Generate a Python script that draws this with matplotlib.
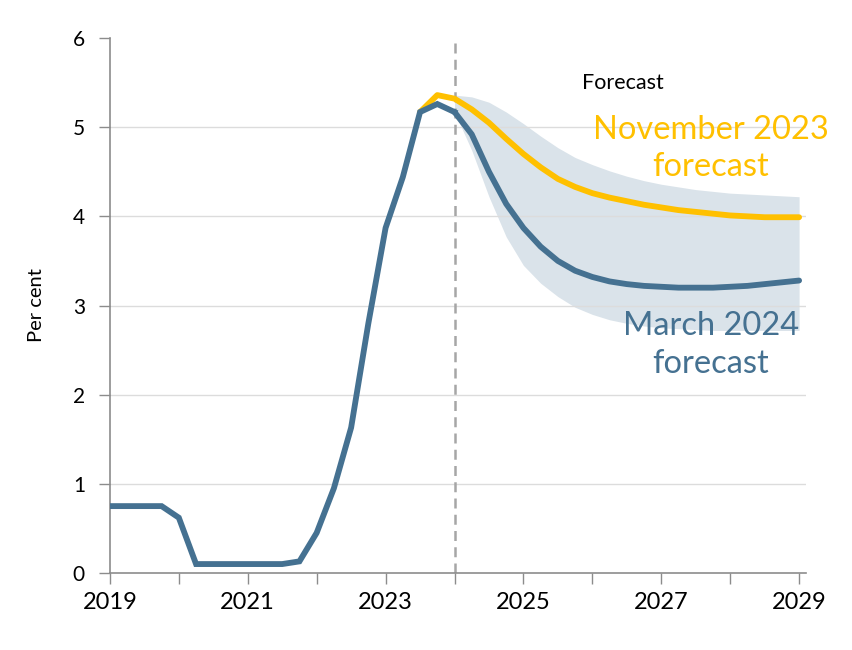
import numpy as np
import matplotlib
matplotlib.use("Agg")
import matplotlib.pyplot as plt

plt.rcParams['font.family'] = ['Lato', 'DejaVu Sans']

# quarterly data, first point = 2019 Q1 (plotted at 2019.0)
hist_start = 2019.0
hist = [0.75, 0.75, 0.75, 0.75, 0.62, 0.10, 0.10, 0.10, 0.10, 0.10, 0.10,
        0.13, 0.45, 0.95, 1.63, 2.80, 3.87, 4.44, 5.17, 5.26, 5.17]

# March 2024 forecast, from 2024.0
fc_start = 2024.0
mar24 = [5.17, 4.92, 4.50, 4.14, 3.87, 3.66, 3.50, 3.39, 3.32, 3.27, 3.24,
         3.22, 3.21, 3.20, 3.20, 3.20, 3.21, 3.22, 3.24, 3.26, 3.28]
band_hi = [5.36, 5.34, 5.28, 5.17, 5.04, 4.90, 4.77, 4.66, 4.58, 4.51, 4.45,
           4.40, 4.36, 4.33, 4.30, 4.28, 4.26, 4.25, 4.24, 4.23, 4.22]
band_lo = [5.17, 4.74, 4.22, 3.77, 3.45, 3.25, 3.10, 2.98, 2.90, 2.84, 2.80,
           2.77, 2.75, 2.74, 2.73, 2.72, 2.72, 2.72, 2.72, 2.72, 2.72]

# November 2023 forecast, from 2023.5
nov_start = 2023.5
nov23 = [5.17, 5.36, 5.32, 5.20, 5.05, 4.87, 4.70, 4.55, 4.42, 4.33, 4.26,
         4.21, 4.17, 4.13, 4.10, 4.07, 4.05, 4.03, 4.01, 4.00, 3.99, 3.99, 3.99]

years = list(range(2019, 2030))
year_labels = [str(y) if y % 2 == 1 else '' for y in years]

blue = '#457191'
yellow = '#FFC000'
band = '#DAE3EA'
grey = '#8C8C8C'

hx = hist_start + np.arange(len(hist)) / 4
fx = fc_start + np.arange(len(mar24)) / 4
nx = nov_start + np.arange(len(nov23)) / 4

fig = plt.figure(figsize=(8.52, 6.5), dpi=100)
ax = fig.add_axes([0.129, 0.1185, 0.817, 0.823])

ax.fill_between(fx, band_lo, band_hi, color=band, lw=0, zorder=0.5)
for v in range(1, 6):
    ax.axhline(v, color='#DCDCDC', lw=1, zorder=1)
ax.axvline(2024, color='#A6A6A6', lw=1.8, ls=(0, (4, 2.5)), zorder=1.5)

ax.plot(nx, nov23, color=yellow, lw=4.2, solid_capstyle='round', zorder=3)
ax.plot(hx, hist, color=blue, lw=4.2, solid_joinstyle='miter', zorder=4)
ax.plot(fx, mar24, color=blue, lw=4.2, solid_capstyle='round', zorder=4)

ax.text(2025.85, 5.50, 'Forecast', fontsize=15.5, color='black', va='center', ha='left')
ax.text(2027.72, 4.76, 'November 2023\nforecast', fontsize=23.5, color=yellow,
        ha='center', va='center', linespacing=1.32)
ax.text(2027.72, 2.56, 'March 2024\nforecast', fontsize=23.5, color=blue,
        ha='center', va='center', linespacing=1.32)

ax.set_xlim(2019, 2029.1)
ax.set_ylim(0, 6)
ax.set_xticks(years)
ax.set_xticklabels(year_labels, fontsize=17)
ax.set_yticks(range(0, 7))
ax.tick_params(axis='y', labelsize=15, length=8, width=1, color=grey, pad=10)
ax.tick_params(axis='x', length=8, width=1, color=grey, pad=6)
ax.set_ylabel('Per cent', fontsize=14.5, labelpad=20)

for s in ['top', 'right']:
    ax.spines[s].set_visible(False)
for s in ['left', 'bottom']:
    ax.spines[s].set_color(grey)
    ax.spines[s].set_linewidth(1.2)

fig.savefig('out.png', dpi=100)
